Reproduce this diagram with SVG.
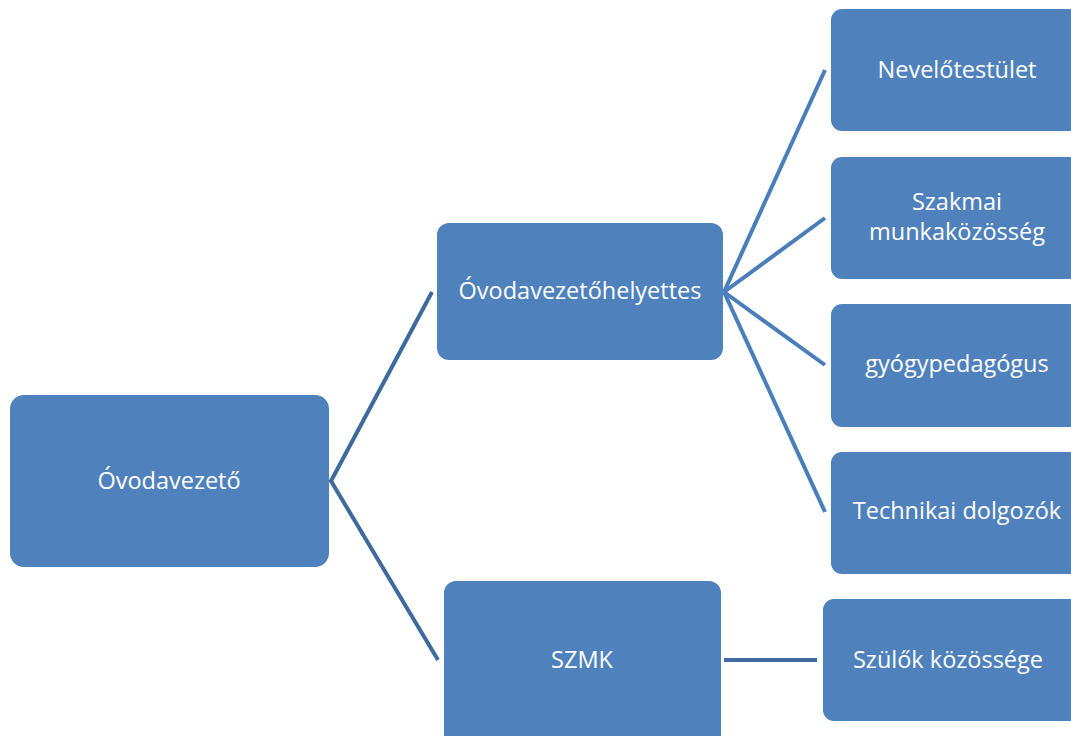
<svg xmlns="http://www.w3.org/2000/svg" width="1071" height="736" viewBox="0 0 1071 736">
<style>
.box{fill:#4f81bd;}
.t{fill:#ffffff;font-family:"Open Sans","Noto Sans","Liberation Sans",sans-serif;font-size:23.5px;text-anchor:middle;}
.c1{stroke:#3e6a9e;stroke-width:4;fill:none;}
.c2{stroke:#4a7ebb;stroke-width:4;fill:none;}
</style>
<rect width="1071" height="736" fill="#ffffff"/>
<g id="connectors">
<polyline class="c1" points="432,292 331,481 438,660"/>
<line class="c2" x1="724" y1="292" x2="825" y2="70"/>
<line class="c2" x1="724" y1="292" x2="825" y2="218"/>
<line class="c2" x1="724" y1="292" x2="825" y2="365"/>
<line class="c2" x1="724" y1="292" x2="825" y2="512"/>
<line class="c1" x1="724" y1="660" x2="817" y2="660" stroke-width="5"/>
</g>
<g id="n-ovodavezeto">
<rect class="box" x="10" y="395" width="319" height="172" rx="14"/>
<text class="t" x="169" y="489">Óvodavezető</text>
</g>
<g id="n-helyettes">
<rect class="box" x="437" y="223" width="286" height="137" rx="12"/>
<text class="t" x="580" y="299">Óvodavezetőhelyettes</text>
</g>
<g id="n-szmk">
<rect class="box" x="444" y="581" width="277" height="175" rx="12"/>
<text class="t" x="582" y="668">SZMK</text>
</g>
<g id="n-nevelotestulet">
<rect class="box" x="831" y="9" width="252" height="122" rx="11"/>
<text class="t" x="957" y="78">Nevelőtestület</text>
</g>
<g id="n-szakmai">
<rect class="box" x="831" y="157" width="252" height="122" rx="11"/>
<text class="t" x="957" y="210">Szakmai</text>
<text class="t" x="957" y="240">munkaközösség</text>
</g>
<g id="n-gyogypedagogus">
<rect class="box" x="831" y="304" width="252" height="123" rx="11"/>
<text class="t" x="957" y="372">gyógypedagógus</text>
</g>
<g id="n-technikai">
<rect class="box" x="831" y="452" width="252" height="122" rx="11"/>
<text class="t" x="957" y="519">Technikai dolgozók</text>
</g>
<g id="n-szulok">
<rect class="box" x="823" y="599" width="260" height="122" rx="11"/>
<text class="t" x="948" y="668">Szülők közössége</text>
</g>
</svg>
